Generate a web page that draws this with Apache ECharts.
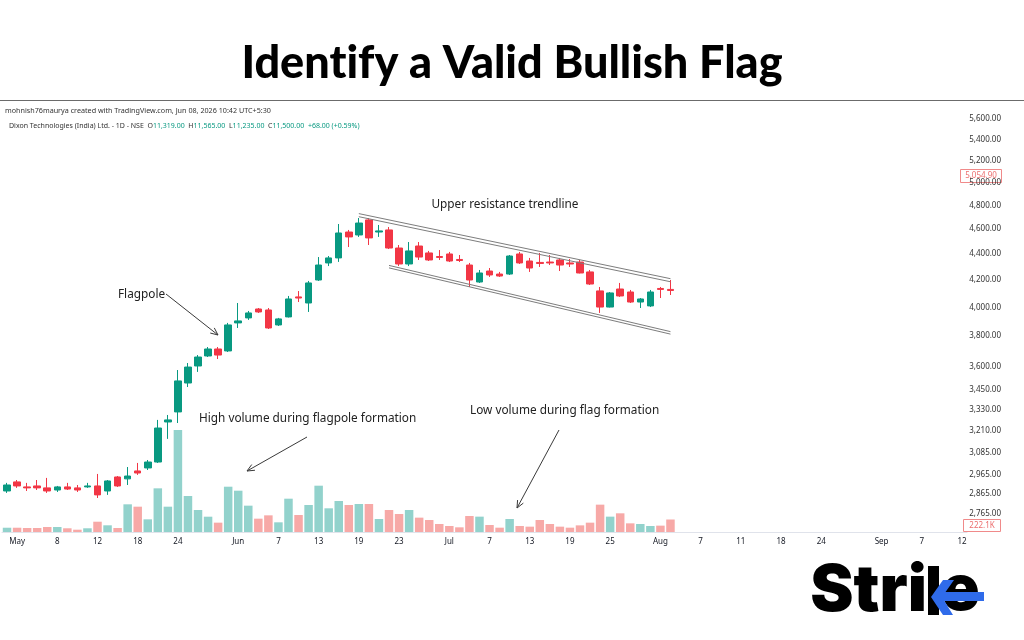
<!DOCTYPE html>
<html>
<head>
<meta charset="utf-8">
<title>Identify a Valid Bullish Flag</title>
<script src="https://cdn.jsdelivr.net/npm/echarts@6/dist/echarts.min.js"></script>
<style>
  html, body { margin: 0; padding: 0; background: #fff; }
  #main { width: 1024px; height: 640px; }
</style>
</head>
<body>
<div id="main"></div>
<script>
// daily candles (price)
var open  = [2881, 2928, 2902, 2907, 2897, 2886, 2902, 2897, 2902, 2907, 2881, 2954, 2944, 2986, 3002, 3034, 3259, 3318, 3494, 3602,
             3667, 3713, 3700, 3890, 3925, 3988, 3981, 3876, 3932, 4075, 4031, 4200, 4330, 4369, 4576, 4552, 4676, 4576, 4593, 4447,
             4322, 4463, 4408, 4380, 4400, 4357, 4314, 4185, 4268, 4245, 4245, 4400, 4345, 4334, 4337, 4353, 4330, 4337, 4261, 4119,
             4002, 4133, 4111, 4038, 4010, 4137, 4130];
var close = [2912, 2907, 2897, 2897, 2881, 2902, 2891, 2886, 2907, 2861, 2933, 2907, 2959, 2975, 3034, 3224, 3271, 3507, 3595, 3660,
             3713, 3673, 3876, 3904, 3960, 3967, 3855, 3918, 4060, 4067, 4178, 4314, 4369, 4568, 4536, 4650, 4528, 4585, 4447, 4322,
             4424, 4376, 4353, 4373, 4345, 4349, 4200, 4253, 4238, 4230, 4384, 4330, 4291, 4326, 4330, 4314, 4322, 4253, 4170, 4002,
             4104, 4082, 4038, 4060, 4111, 4130, 4122];
var low   = [2871, 2897, 2881, 2886, 2871, 2876, 2886, 2876, 2897, 2845, 2861, 2902, 2912, 2965, 2991, 3029, 3162, 3253, 3469, 3564,
             3660, 3647, 3693, 3855, 3911, 3960, 3848, 3869, 3928, 4038, 3967, 4193, 4306, 4338, 4455, 4536, 4471, 4536, 4439, 4306,
             4306, 4353, 4345, 4353, 4337, 4337, 4148, 4178, 4223, 4223, 4238, 4322, 4261, 4299, 4314, 4268, 4299, 4250, 4163, 3960,
             3999, 4075, 4031, 3995, 4002, 4067, 4089];
var high  = [2923, 2938, 2923, 2938, 2949, 2907, 2923, 2912, 2923, 2970, 2938, 2959, 3007, 3029, 3045, 3271, 3300, 3576, 3621, 3673,
             3726, 3726, 3890, 4031, 3974, 3995, 3995, 3925, 4082, 4118, 4193, 4376, 4384, 4642, 4593, 4692, 4692, 4634, 4617, 4471,
             4495, 4495, 4424, 4431, 4416, 4392, 4330, 4276, 4291, 4261, 4392, 4416, 4369, 4408, 4392, 4369, 4361, 4353, 4276, 4148,
             4111, 4178, 4126, 4067, 4126, 4148, 4200];
// volume, thousands
var volume = [76, 76, 71, 71, 89, 89, 66, 41, 66, 183, 119, 71, 492, 450, 225, 776, 450, 1813, 640, 391,
              272, 166, 805, 734, 468, 237, 296, 172, 592, 302, 480, 823, 421, 551, 480, 498, 498, 231, 391, 320,
              391, 255, 213, 142, 107, 83, 284, 273, 124, 77, 231, 107, 95, 213, 142, 95, 77, 118, 166, 486,
              273, 332, 154, 142, 107, 113, 222.1];
// empty trading days to the right of the last candle
var futureDays = 29;

// time axis labels (index of the day, text)
var tickIdx  = [1, 5, 9, 13, 17, 23, 27, 31, 35, 39, 44, 48, 52, 56, 60, 65, 69, 73, 77, 81, 87, 91, 95];
var tickText = ['May', '8', '12', '18', '24', 'Jun', '7', '13', '19', '23', 'Jul', '7', '13', '19', '25', 'Aug', '7', '11', '18', '24', 'Sep', '7', '12'];

// price scale labels (log scale)
var priceTicks = [5600, 5400, 5200, 5000, 4800, 4600, 4400, 4200, 4000, 3800, 3600, 3450, 3330, 3210, 3085, 2965, 2865, 2765];

// flag channel: [startDay, startPrice, endDay, endPrice]
var channel = [
  [35, 4729, 66, 4210],
  [35, 4703, 66, 4187],
  [38, 4311, 66, 3830],
  [38, 4292, 66, 3813]
];

var UP = '#089981', DOWN = '#f23645';
var UP_VOL = '#92d2cc', DOWN_VOL = '#f7a9a7';

var days = [];
for (var i = 0; i < open.length + futureDays; i++) days.push(String(i));

var candleData = open.map(function (o, i) {
  return [Math.log10(o), Math.log10(close[i]), Math.log10(low[i]), Math.log10(high[i])];
});
var volData = volume.map(function (v, i) {
  return { value: v, itemStyle: { color: close[i] >= open[i] ? UP_VOL : DOWN_VOL } };
});

function fmtPrice(v) {
  return Math.round(Math.pow(10, v)).toLocaleString('en-US', { minimumFractionDigits: 2, maximumFractionDigits: 2 });
}

// small arrow for the notes
function arrow(x1, y1, x2, y2) {
  var a = Math.atan2(y2 - y1, x2 - x1), s = 8, w = 0.42;
  return [
    { type: 'line', shape: { x1: x1, y1: y1, x2: x2, y2: y2 }, style: { stroke: '#3a3a3a', lineWidth: 1 } },
    { type: 'polyline', shape: { points: [
        [x2 - s * Math.cos(a - w), y2 - s * Math.sin(a - w)], [x2, y2],
        [x2 - s * Math.cos(a + w), y2 - s * Math.sin(a + w)]] },
      style: { stroke: '#3a3a3a', lineWidth: 1, fill: null } }
  ];
}

function note(text, x, y, align) {
  return { type: 'text', x: x, y: y, style: { text: text, fill: '#222', font: '11.8px "Noto Sans"', align: align || 'left', verticalAlign: 'middle' } };
}

var chart = echarts.init(document.getElementById('main'), null, { renderer: 'canvas' });

var graphics = [
  // title (zero-width non-joiners keep Lato from joining t-i / f-y)
  { type: 'text', x: 512, y: 63, style: { text: 'Ident\u200Cif\u200Cy a Valid Bullish Flag', fill: '#000', font: '900 45px Lato', align: 'center', verticalAlign: 'middle' } },
  { type: 'line', shape: { x1: 0, y1: 100.5, x2: 1024, y2: 100.5 }, style: { stroke: '#6b6b6b', lineWidth: 1 } },
  // tradingview header
  { type: 'text', x: 5, y: 111, style: { text: 'mohnish76maurya created with TradingView.com, Jun 08, 2026 10:42 UTC+5:30', fill: '#333', font: '7.2px "Noto Sans"', verticalAlign: 'middle' } },
  { type: 'text', x: 9, y: 126, style: {
      text: 'Dixon Technologies (India) Ltd. - 1D - NSE  {k|O}{g|11,319.00}  {k|H}{g|11,565.00}  {k|L}{g|11,235.00}  {k|C}{g|11,500.00}  {g|+68.00 (+0.59%)}',
      fill: '#333', font: '7px "Noto Sans"', verticalAlign: 'middle',
      rich: { k: { fill: '#333', font: '7px "Noto Sans"' }, g: { fill: UP, font: '7px "Noto Sans"' } } } },
  // notes
  note('Upper resistance trendline', 505, 205, 'center'),
  note('Flagpole', 118, 295),
  note('High volume during flagpole formation', 199, 419),
  note('Low volume during flag formation', 470, 411),
  // price / volume last value boxes
  { type: 'rect', shape: { x: 960.5, y: 169.5, width: 41, height: 13 }, style: { fill: '#fff', stroke: '#f08a8a', lineWidth: 1 } },
  { type: 'text', x: 981, y: 176, style: { text: '5,054.90', fill: '#ec6f6f', font: '8px "Noto Sans"', align: 'center', verticalAlign: 'middle' } },
  { type: 'rect', shape: { x: 963.5, y: 519.5, width: 37, height: 12 }, style: { fill: '#fff', stroke: '#f08a8a', lineWidth: 1 } },
  { type: 'text', x: 982, y: 526, style: { text: '222.1K', fill: '#ec6f6f', font: '8px "Noto Sans"', align: 'center', verticalAlign: 'middle' } },
  // Strike logo
  { type: 'text', x: 927, y: 591, style: { text: 'Stri', fill: '#000', font: '900 65px Inter', align: 'right', verticalAlign: 'middle' } },
  { type: 'rect', shape: { x: 928, y: 566, width: 11, height: 49 }, style: { fill: '#000' } },
  { type: 'text', x: 941, y: 591, style: { text: 'e', fill: '#000', font: '900 64px Inter', align: 'left', verticalAlign: 'middle' } },
  { type: 'polygon', shape: { points: [[954, 580], [942, 597], [953, 615], [943, 615], [931, 597], [943, 580]] }, style: { fill: '#2f6bea' } },
  { type: 'rect', shape: { x: 938, y: 592, width: 46, height: 9 }, style: { fill: '#2f6bea' } }
]
  .concat(arrow(166, 294, 218, 335))
  .concat(arrow(307, 437, 247, 471))
  .concat(arrow(559, 430, 517, 508));

chart.setOption({
  animation: false,
  backgroundColor: '#fff',
  grid: { left: 2, right: 57, top: 100, bottom: 108, containLabel: false },
  xAxis: {
    type: 'category',
    data: days,
    boundaryGap: true,
    axisLine: { show: true, lineStyle: { color: '#e0e3eb' } },
    axisTick: { show: false },
    splitLine: { show: false },
    axisLabel: {
      interval: function (index) { return tickIdx.indexOf(index) >= 0; },
      formatter: function (value, index) {
        var k = tickIdx.indexOf(Number(value));
        return k >= 0 ? tickText[k] : '';
      },
      color: '#131722',
      fontFamily: 'Noto Sans',
      fontSize: 8,
      margin: 6
    }
  },
  yAxis: [{
    type: 'value',
    position: 'right',
    min: 3.42771,
    max: 3.76293,
    scale: true,
    axisLine: { show: false },
    axisTick: { show: false },
    splitLine: { show: false },
    axisLabel: {
      customValues: priceTicks.map(function (p) { return Math.log10(p); }),
      formatter: fmtPrice,
      color: '#333',
      fontFamily: 'Noto Sans',
      fontSize: 8,
      align: 'right',
      margin: 34
    }
  }, {
    type: 'value',
    position: 'left',
    min: 0,
    max: 7677,
    show: false
  }],
  series: [{
    name: 'Volume',
    type: 'bar',
    yAxisIndex: 1,
    data: volData,
    barWidth: 8.5,
    silent: true
  }, {
    name: 'Dixon',
    type: 'candlestick',
    yAxisIndex: 0,
    data: candleData,
    barWidth: 7,
    itemStyle: { color: UP, color0: DOWN, borderColor: UP, borderColor0: DOWN, borderWidth: 1 },
    markLine: {
      silent: true,
      symbol: ['none', 'none'],
      label: { show: false },
      lineStyle: { color: '#7d7d7d', width: 1, type: 'solid' },
      data: channel.map(function (c) {
        return [{ coord: [c[0], Math.log10(c[1])] }, { coord: [c[2], Math.log10(c[3])] }];
      })
    }
  }],
  graphic: graphics
});
</script>
</body>
</html>
